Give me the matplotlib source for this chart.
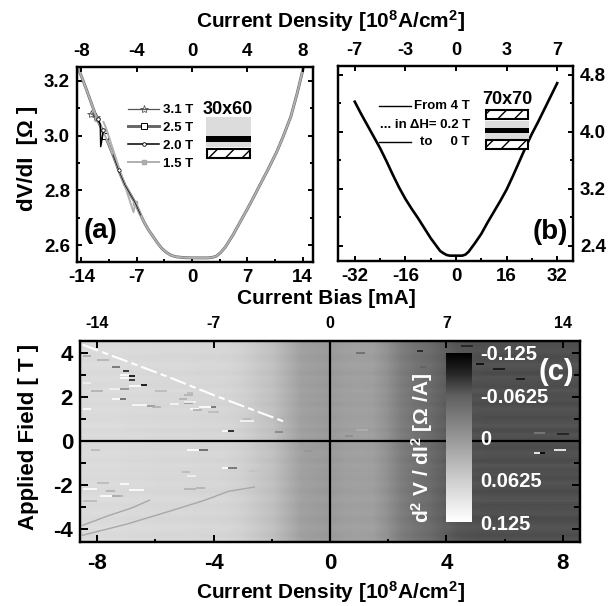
import matplotlib
matplotlib.use("Agg")
import matplotlib.pyplot as plt
from matplotlib.colors import LinearSegmentedColormap, Normalize
from matplotlib.patches import Rectangle

W, H = 611, 606

# panel (a): bias in mA, dV/dI in ohm
a_x = [-14.3, -13.5, -13.0, -12.0, -11.0, -10.0, -9.3, -8.5, -7.8, -7.2, -6.5, -6.0, -5.5, -4.9, -4.3, -3.8, -3.2, -2.6, -2.0, -1.0,
       0.0, 1.0, 2.0, 2.6, 3.1, 3.6, 4.2, 5.2, 6.0, 7.0, 7.7, 8.5, 9.5, 10.7, 11.5, 12.5, 13.3, 14.1]
a_y = [3.24, 3.18, 3.14, 3.06, 3.0, 2.93, 2.875, 2.82, 2.785, 2.755, 2.71, 2.68, 2.655, 2.63, 2.605, 2.587, 2.572, 2.562, 2.557, 2.554,
       2.553, 2.553, 2.553, 2.555, 2.56, 2.572, 2.592, 2.638, 2.68, 2.732, 2.77, 2.815, 2.87, 2.94, 2.995, 3.07, 3.155, 3.25]
a_labels = ["3.1 T", "2.5 T", "2.0 T", "1.5 T"]
# jumps seen on the negative branch
jump_20_x = [-11.9, -11.6, -11.55, -11.2]
jump_20_y = [3.06, 3.04, 2.96, 3.02]
jump_31_x = [-12.8, -12.2]
jump_31_y = [3.08, 3.07]
jump_15_x = [-11.2, -10.9, -7.4, -7.2]
jump_15_y = [3.05, 3.03, 2.72, 2.75]

# panel (b)
b_x = [-32, -30, -28, -26, -24, -22, -20, -18, -16, -14, -12, -10, -8, -6, -5, -4, -3, -2, 0, 2, 3, 4, 5, 6, 8, 10, 12, 14, 16, 18, 20, 22, 24, 26, 28, 30, 32]
b_y = [4.42, 4.25, 4.09, 3.93, 3.77, 3.59, 3.40, 3.22, 3.06, 2.92, 2.79, 2.65, 2.51, 2.39, 2.33, 2.30, 2.275, 2.265, 2.265, 2.265, 2.28, 2.32, 2.38, 2.44, 2.57, 2.73, 2.88, 3.03, 3.19, 3.38, 3.58, 3.78, 3.97, 4.14, 4.32, 4.5, 4.68]

# panel (c): background d2V/dI2 per current density column, -8.5 to 8.5
c_density = [-8.5, -8.0, -7.5, -7.0, -6.5, -6.0, -5.5, -5.0, -4.5, -4.0, -3.5, -3.0, -2.5, -2.0, -1.5, -1.0, -0.5, 0.0,
             0.5, 1.0, 1.5, 2.0, 2.5, 3.0, 3.5, 4.0, 4.5, 5.0, 5.5, 6.0, 6.5, 7.0, 7.5, 8.0, 8.5]
c_column = [0.08, 0.08, 0.08, 0.078, 0.078, 0.076, 0.076, 0.076, 0.074, 0.074, 0.072, 0.066, 0.056, 0.048, 0.03, 0.012, 0.008, 0.005,
            0.01, 0.012, 0.01, -0.005, -0.028, -0.04, -0.048, -0.062, -0.068, -0.07, -0.071, -0.071, -0.071, -0.071, -0.071, -0.071, -0.071]
# small row to row offsets, field from -4.6 T to 4.6 T
c_row = [0.002, -0.002, 0.001, 0.003, -0.001, -0.003, 0.002, 0.0, -0.002, 0.003, 0.001, -0.003, 0.0, 0.002, -0.002, 0.001, -0.001, 0.003, -0.003, 0.001, 0.002, -0.002,
         0.0, -0.001, 0.002, -0.003, 0.003, 0.0, -0.002, 0.001, 0.002, -0.003, 0.001, -0.001, 0.003, -0.002, 0.0, 0.002, -0.003, 0.001, 0.003, -0.001, -0.002, 0.002, 0.0, -0.001]
c_fields = [-4.6, 4.6]
# dashes, streaks: x0, x1, field, value
streaks = [
    (-7.5, -7.2, 3.4, -0.05), (-7.1, -6.9, 3.2, -0.1), (-6.9, -6.7, 2.95, -0.125), (-6.9, -6.7, 2.8, -0.1),
    (-7.2, -6.9, 2.9, 0.125), (-7.2, -6.9, 3.0, 0.125), (-6.9, -6.5, 2.5, 0.125), (-6.5, -6.3, 2.55, -0.125),
    (-7.6, -7.2, 2.4, 0.11), (-7.2, -6.9, 2.4, -0.01), (-8.5, -8.2, 1.45, 0.125), (-7.5, -7.2, 1.9, 0.125),
    (-7.2, -7.0, 1.9, -0.06), (-6.8, -6.3, 1.65, 0.12), (-6.3, -6.0, 1.6, 0.0), (-5.0, -4.7, 1.75, 0.0),
    (-4.8, -4.5, 1.45, 0.12), (-4.5, -4.1, 1.55, 0.125), (-4.1, -3.9, 1.55, -0.05), (-3.7, -3.5, 0.45, 0.125),
    (-3.5, -3.3, 0.45, -0.11), (-1.9, -1.6, 0.4, -0.02), (-4.9, -4.5, -0.4, 0.125), (-4.5, -4.2, -0.4, -0.06),
    (-3.7, -3.5, -1.25, 0.125), (-3.5, -3.2, -1.25, -0.05), (-7.2, -6.9, -1.95, 0.125), (-8.5, -8.0, -2.2, 0.125),
    (-6.9, -6.4, -2.25, 0.125), (-7.9, -7.5, -2.5, 0.125), (-7.5, -7.2, -2.5, 0.0), (7.2, 7.4, -0.55, -0.125),
    (7.0, 7.2, -0.55, 0.125), (7.7, 8.1, -0.4, 0.125), (5.6, 6.0, 3.3, -0.11), (4.5, 4.9, 4.35, -0.1),
    (6.4, 6.7, 2.85, -0.11), (3.0, 3.2, 4.1, -0.1), (7.8, 8.2, 0.3, -0.1), (7.0, 7.4, 0.35, -0.03),
    (-8.2, -7.8, 2.3, 0.03), (-6.0, -5.6, 2.3, 0.04), (-5.2, -4.9, 1.9, 0.03), (-5.0, -4.7, 2.1, 0.03),
    (-4.7, -4.4, 1.4, 0.03), (-4.2, -3.8, 1.35, 0.04), (-6.1, -5.8, 1.55, 0.03), (-5.5, -5.2, 1.7, 0.115),
    (-5.0, -4.6, 1.8, 0.11), (-4.9, -4.7, 2.2, 0.04), (-3.0, -2.7, 1.0, 0.04), (-8.5, -8.2, 2.65, 0.11),
    (-8.5, -8.2, 3.9, 0.02), (-8.0, -7.6, 3.7, 0.03), (-3.1, -2.6, 0.9, 0.115), (-8.5, -8.0, -2.75, 0.04),
    (-8.0, -7.6, -1.9, 0.04), (-7.7, -7.4, -2.3, 0.03), (-5.0, -4.6, -2.2, 0.03), (-4.6, -4.3, -2.15, 0.03),
    (-4.9, -4.6, -1.6, 0.11), (-5.1, -4.8, -1.4, 0.04), (-7.5, -7.1, -2.5, 0.03), (-2.8, -2.5, -1.35, 0.05),
    (-0.9, -0.6, -0.45, 0.0), (-8.2, -7.9, -0.4, 0.04), (0.9, 1.2, 4.0, -0.05), (3.1, 3.3, 3.4, -0.06),
    (0.9, 1.3, 0.5, 0.03), (1.7, 2.0, 0.3, 0.0), (0.5, 0.8, 0.25, -0.01), (5.0, 5.3, 3.5, -0.12),
]
trace_1_x = [-8.5, -7.0, -5.5, -4.3, -3.5, -2.6]
trace_1_y = [-4.3, -3.8, -3.2, -2.7, -2.3, -2.1]
trace_2_x = [-8.5, -7.6, -6.8, -6.2]
trace_2_y = [-3.85, -3.4, -3.05, -2.7]
ridge_x = [-8.5, -7.0, -5.5, -4.0, -2.8, -1.5]
ridge_y = [4.4, 3.65, 2.9, 2.1, 1.5, 0.85]

cbar_ticks = [-0.125, -0.0625, 0, 0.0625, 0.125]
cbar_labels = ["-0.125", "-0.0625", "0", "0.0625", "0.125"]

plt.rcParams["font.family"] = ["Liberation Sans", "DejaVu Sans"]
plt.rcParams["font.weight"] = "bold"
plt.rcParams["mathtext.fontset"] = "custom"
plt.rcParams["mathtext.bf"] = "Liberation Sans:bold"
plt.rcParams["mathtext.rm"] = "Liberation Sans:bold"
plt.rcParams["mathtext.default"] = "bf"
plt.rcParams["axes.linewidth"] = 1.6
plt.rcParams["axes.unicode_minus"] = False


def box(x0, y0, x1, y1):
    """Axes rectangle from pixel edges of the picture."""
    return [x0 / W, 1 - y1 / H, (x1 - x0) / W, (y1 - y0) / H]


def label(x, y, text, size, **kw):
    kw.setdefault("ha", "center")
    kw.setdefault("va", "center")
    fig.text(x / W, 1 - y / H, text, fontsize=size, fontweight="bold", **kw)


def layer(x0, y0, x1, y1, **kw):
    fig.add_artist(Rectangle((x0 / W, 1 - y1 / H), (x1 - x0) / W, (y1 - y0) / H,
                             transform=fig.transFigure, **kw))


def style(ax, size):
    ax.tick_params(which="both", direction="in", width=1.4, top=True, right=True,
                   labelsize=size, pad=5)
    ax.tick_params(which="major", length=3.5)
    ax.tick_params(which="minor", length=2.5)


def top_axis(ax, ticks, labels, size):
    top = ax.twiny()
    top.set_xlim(ax.get_xlim())
    top.set_xticks(ticks)
    top.set_xticklabels(labels)
    top.tick_params(direction="in", width=1.4, length=3.5, labelsize=size, pad=5)
    return top


fig = plt.figure(figsize=(W / 100, H / 100), dpi=100)

# (a)
ax_a = fig.add_axes(box(77, 67, 313, 262))
line_25, = ax_a.plot(a_x, a_y, color="#666666", lw=2.1, marker="s", ms=4, mfc="white", mec="black", mew=0.7,
                     markevery=[4], label=a_labels[1])
line_31, = ax_a.plot(jump_31_x, jump_31_y, color="#555555", lw=0.9, marker="*", ms=6, mfc="none", mew=0.6,
                     label=a_labels[0])
line_15, = ax_a.plot(a_x, a_y, color="#b0b0b0", lw=1.4, marker="s", ms=3.5, mec="#a8a8a8",
                     markevery=[3, 9], label=a_labels[3])
ax_a.plot(jump_15_x, jump_15_y, color="#b0b0b0", lw=1.4)
line_20, = ax_a.plot(jump_20_x, jump_20_y, color="black", lw=1.1, marker="o", ms=2.6, mfc="white", mew=0.6,
                     markevery=[0, 3], label=a_labels[2])
ax_a.plot(a_x[5:11], a_y[5:11], color="black", lw=0.5, marker="o", ms=2.4, mfc="white", mew=0.5, markevery=[1])
ax_a.set_xlim(-14.55, 15.3)
ax_a.set_ylim(2.538, 3.251)
ax_a.set_xticks([-14, -7, 0, 7, 14])
ax_a.set_xticks([-10.5, -3.5, 3.5, 10.5], minor=True)
ax_a.set_yticks([2.6, 2.8, 3.0, 3.2])
ax_a.set_yticklabels(["2.6", "2.8", "3.0", "3.2"])
ax_a.set_yticks([2.7, 2.9, 3.1], minor=True)
style(ax_a, 13.5)
top_axis(ax_a, [-14, -7, 0, 7, 14], ["-8", "-4", "0", "4", "8"], 13.5)
ax_a.legend(handles=[line_31, line_25, line_20, line_15], loc="upper left", bbox_to_anchor=(0.215, 0.81),
            frameon=False, fontsize=9.5, handlelength=2.4, labelspacing=0.42, handletextpad=0.25,
            borderpad=0, borderaxespad=0)
label(101, 231, "(a)", 20)
label(228, 109, "30x60", 13)
layer(206, 117, 251, 147, fc="#dcdcdc", ec="none")
layer(206, 136, 251, 142, fc="black", ec="none")
layer(207, 149, 250, 158, fc="white", ec="black", lw=1.5, hatch="//")

# (b)
ax_b = fig.add_axes(box(338, 66, 573, 261))
ax_b.plot(b_x, b_y, color="black", lw=1.9)
ax_b.set_xlim(-37.3, 37)
ax_b.set_ylim(2.19, 4.92)
ax_b.set_xticks([-32, -16, 0, 16, 32])
ax_b.set_xticks([-24, -8, 8, 24], minor=True)
ax_b.set_yticks([2.4, 3.2, 4.0, 4.8])
ax_b.set_yticklabels(["2.4", "3.2", "4.0", "4.8"])
ax_b.set_yticks([2.8, 3.6, 4.4], minor=True)
style(ax_b, 13.5)
ax_b.yaxis.tick_right()
ax_b.tick_params(which="both", left=True, right=True)
top_axis(ax_b, [-32, -16, 0, 16, 32], ["-7", "-3", "0", "3", "7"], 13)
fig.add_artist(plt.Line2D([379 / W, 411 / W], [1 - 106 / H] * 2, color="black", lw=1.0))
fig.add_artist(plt.Line2D([379 / W, 411 / W], [1 - 142 / H] * 2, color="black", lw=1.0))
label(470, 106, "From 4 T", 9.5, ha="right")
label(470, 125, "... in ΔH= 0.2 T", 9.5, ha="right")
label(470, 142, "to     0 T", 9.5, ha="right")
label(550, 232, "(b)", 20)
label(507, 99, "70x70", 13)
layer(486, 110, 528, 119, fc="white", ec="black", lw=1.5, hatch="//")
layer(485, 121, 529, 139, fc="#dcdcdc", ec="none")
layer(485, 128, 529, 133, fc="black", ec="none")
layer(486, 140, 528, 149, fc="white", ec="black", lw=1.5, hatch="//")

# (c)
grey_map = LinearSegmentedColormap.from_list("d2v", [(0, "#000000"), (0.12, "#262626"), (0.25, "#5f5f5f"),
                                                     (0.5, "#969696"), (0.75, "#cdcdcd"), (1, "#ffffff")])
norm = Normalize(-0.125, 0.125)
c_map = [[v + off for v in c_column] for off in c_row]
ax_c = fig.add_axes(box(80, 341, 580, 542))
im = ax_c.imshow(c_map, extent=[c_density[0] - 0.09, c_density[-1] + 0.09, c_fields[0], c_fields[1]], origin="lower",
                 cmap=grey_map, norm=norm, aspect="auto", interpolation="bilinear")
ax_c.hlines([s[2] for s in streaks], [s[0] for s in streaks], [s[1] for s in streaks],
            colors=[grey_map(norm(s[3])) for s in streaks], lw=1.2)
ax_c.plot(trace_1_x, trace_1_y, color="#a8a8a8", lw=1.0)
ax_c.plot(trace_2_x, trace_2_y, color="#a8a8a8", lw=1.0)
ax_c.plot(ridge_x, ridge_y, color="white", lw=1.5, dashes=(8, 2, 3, 2))
ax_c.axhline(0, color="black", lw=1.6)
ax_c.axvline(0, color="black", lw=1.6)
ax_c.set_xlim(-8.59, 8.59)
ax_c.set_ylim(-4.61, 4.57)
ax_c.set_xticks([-8, -4, 0, 4, 8])
ax_c.set_xticks([-6, -2, 2, 6], minor=True)
ax_c.set_yticks([-4, -2, 0, 2, 4])
ax_c.set_yticks([-3, -1, 1, 3], minor=True)
style(ax_c, 16)
ax_c.tick_params(axis="x", pad=8)
ax_c.tick_params(axis="x", which="major", length=5)
ax_c.tick_params(axis="y", which="major", length=6)
ax_c.tick_params(axis="y", which="minor", length=4)
top_c = top_axis(ax_c, [-8, -4, 0, 4, 8], ["-14", "-7", "0", "7", "14"], 11.5)
top_c.tick_params(pad=7, length=5)

cax = fig.add_axes(box(446, 353, 472, 522))
fig.colorbar(im, cax=cax, ticks=cbar_ticks)
cax.set_ylim(0.125, -0.125)
cax.set_yticklabels(cbar_labels)
cax.tick_params(length=0, colors="white", labelsize=14.5, pad=6)
for spine in cax.spines.values():
    spine.set_visible(False)
label(422, 448, r"d$^{2}$ V / dI$^{2}$ [Ω /A]", 15, rotation=90, color="white")
label(556, 372, "(c)", 21, color="white")

# shared titles
label(331, 21, r"Current Density [10$^{8}$A/cm$^{2}$]", 15)
label(326, 299, "Current Bias [mA]", 15)
label(331, 592, r"Current Density [10$^{8}$A/cm$^{2}$]", 15)
label(27, 158, "dV/dI  [Ω ]", 16, rotation=90)
label(29, 437, "Applied Field [ T ]", 16, rotation=90)

fig.savefig("out.png", dpi=100)
